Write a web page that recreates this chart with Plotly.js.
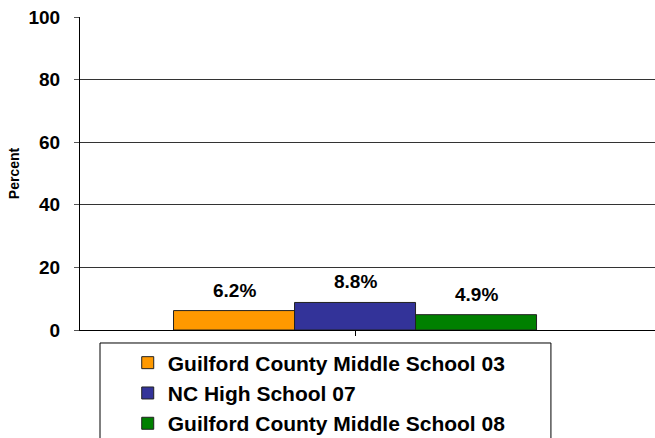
<!DOCTYPE html>
<html><head><meta charset="utf-8">
<script src="https://cdn.plot.ly/plotly-3.0.1.min.js"></script>
<style>html,body{margin:0;padding:0;background:#fff}</style>
</head><body><div id="chart" style="width:655px;height:438px"></div>
<script>
const categories = ["Guilford County Middle School 03", "NC High School 07", "Guilford County Middle School 08"];
const seriesNames = ["Guilford County Middle School 03", "NC High School 07", "Guilford County Middle School 08"];
const seriesValues = [6.2, 8.8, 4.9];
const seriesColors = ["#FF9900", "#333399", "#008000"];
const yTicks = [0, 20, 40, 60, 80, 100];

const FONT = "Liberation Sans, Arial, sans-serif";
const traces = seriesNames.map((n, i) => ({
  type: "bar",
  name: n,
  legendgroup: "g" + i,
  x: [categories[i]],
  y: [seriesValues[i]],
  marker: {color: seriesColors[i], line: {color: "#222222", width: 1}},
  hoverinfo: "none"
}));

const annotations = categories.map((c, i) => ({
  x: c, y: seriesValues[i], xref: "x", yref: "y",
  text: "<b>" + seriesValues[i].toFixed(1) + "%</b>",
  showarrow: false, yanchor: "bottom", yshift: 8,
  font: {family: FONT, size: 19, color: "#000"}
}));

const layout = {
  width: 655, height: 438,
  margin: {l: 80, r: 0, t: 17, b: 108, autoexpand: false},
  paper_bgcolor: "#fff", plot_bgcolor: "#fff",
  barmode: "overlay", bargap: 0,
  showlegend: true,
  legend: {
    x: 0.083, y: -0.04, xanchor: "left", yanchor: "top",
    xref: "paper", yref: "paper",
    bgcolor: "rgba(0,0,0,0)", borderwidth: 0,
    font: {family: FONT, size: 21, color: "#000", weight: "bold"},
    traceorder: "normal", tracegroupgap: 6
  },
  annotations: annotations,
  shapes: [{
    type: "rect", xref: "paper", yref: "paper",
    x0: 0.0348, x1: 0.819, y0: -0.0415, y1: -0.4,
    line: {color: "#000", width: 1}, fillcolor: "rgba(0,0,0,0)"
  }],
  xaxis: {
    type: "category", range: [-1.273, 3.479],
    tickvals: [categories[1]], ticktext: [""], showticklabels: false,
    ticks: "outside", ticklen: 5, tickcolor: "#000", tickson: "labels",
    showline: true, linecolor: "#000", linewidth: 1, showgrid: false, zeroline: false, fixedrange: true
  },
  yaxis: {
    range: [0, 100], tickvals: yTicks, ticktext: yTicks.map(v => "<b>" + v + "</b>"),
    ticks: "outside", ticklen: 5, tickcolor: "#555", ticklabelstandoff: 10,
    tickfont: {family: FONT, size: 19, color: "#000"},
    showline: true, linecolor: "#000", linewidth: 1,
    showgrid: true, gridcolor: "#333", gridwidth: 1, zeroline: false,
    title: {text: "<b>Percent</b>", font: {family: FONT, size: 14, color: "#000"}, standoff: 5}
  }
};
Plotly.newPlot("chart", traces, layout, {displayModeBar: false, staticPlot: true});
</script></body></html>
